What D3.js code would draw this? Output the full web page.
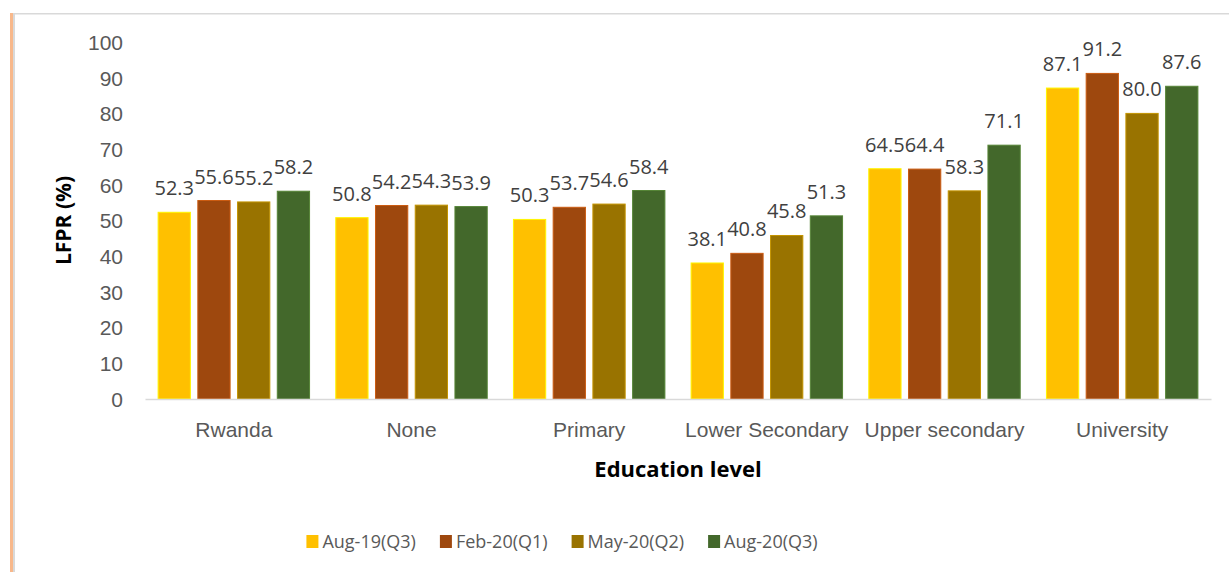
<!DOCTYPE html>
<html>
<head>
<meta charset="utf-8">
<script src="https://cdn.jsdelivr.net/npm/d3@7"></script>
<style>
  html, body { margin: 0; padding: 0; background: #fff; }
  svg { display: block; font-family: "Open Sans", "Noto Sans", sans-serif; }
</style>
</head>
<body>
<div id="chart"></div>
<script>
const categories = ['Rwanda', 'None', 'Primary', 'Lower Secondary', 'Upper secondary', 'University'];
const seriesNames = ['Aug-19(Q3)', 'Feb-20(Q1)', 'May-20(Q2)', 'Aug-20(Q3)'];
const aug19 = [52.3, 50.8, 50.3, 38.1, 64.5, 87.1];
const feb20 = [55.6, 54.2, 53.7, 40.8, 64.4, 91.2];
const may20 = [55.2, 54.3, 54.6, 45.8, 58.3, 80.0];
const aug20 = [58.2, 53.9, 58.4, 51.3, 71.1, 87.6];
const yTicks = [0, 10, 20, 30, 40, 50, 60, 70, 80, 90, 100];
const colors = ['#FFC000', '#9E480E', '#997300', '#43682B'];

const seriesValues = [aug19, feb20, may20, aug20];
const width = 1229, height = 572;
const margins = { top: 42, right: 18, bottom: 173, left: 145 };

const svg = d3.select('#chart').append('svg')
  .attr('width', width)
  .attr('height', height);

// frame like the clipped document border
svg.append('rect').attr('x', 10).attr('y', 13).attr('width', 3).attr('height', height - 13).attr('fill', '#F8B88B');
svg.append('rect').attr('x', 13).attr('y', 13).attr('width', 2).attr('height', height - 13).attr('fill', '#D9D9D9');
svg.append('rect').attr('x', 13).attr('y', 13).attr('width', width - 13).attr('height', 1.5).attr('fill', '#D9D9D9');

const x0 = d3.scaleBand().domain(categories).range([margins.left, width - margins.right]);
const x1 = d3.scaleBand().domain(seriesNames).range([0, x0.bandwidth()])
  .paddingInner(0.1875).paddingOuter(0.33);
const y = d3.scaleLinear().domain([0, 100]).range([399, margins.top]);

// y axis labels
const yAxis = d3.axisLeft(y).tickValues(yTicks).tickSize(0).tickPadding(22);
const yg = svg.append('g').attr('transform', `translate(${margins.left},0)`).call(yAxis);
yg.select('.domain').remove();
yg.selectAll('.tick text')
  .attr('fill', '#595959')
  .style('font-size', '21px')
  .attr('dy', '0.35em');

// bars
const groups = svg.append('g').selectAll('g')
  .data(categories)
  .join('g')
  .attr('transform', d => `translate(${x0(d)},0)`);

groups.selectAll('rect')
  .data((c, i) => seriesNames.map((s, j) => ({ s, j, v: seriesValues[j][i] })))
  .join('rect')
  .attr('x', d => x1(d.s))
  .attr('y', d => y(d.v))
  .attr('width', x1.bandwidth())
  .attr('height', d => y(0) - y(d.v))
  .attr('fill', d => colors[d.j])
  .attr('stroke', d => d3.color(colors[d.j]).brighter(0.7))
  .attr('stroke-width', 1);

groups.selectAll('text')
  .data((c, i) => seriesNames.map((s, j) => ({ s, j, v: seriesValues[j][i] })))
  .join('text')
  .attr('x', d => x1(d.s) + x1.bandwidth() / 2)
  .attr('y', d => y(d.v) - 17)
  .attr('text-anchor', 'middle')
  .attr('fill', '#404040')
  .style('font-size', '20px')
  .text(d => d.v.toFixed(1));

// x axis
const xAxis = d3.axisBottom(x0).tickSize(0).tickPadding(23);
const xg = svg.append('g').attr('transform', `translate(0,${y(0)})`).call(xAxis);
xg.select('.domain').attr('stroke', '#D9D9D9').attr('stroke-width', 1.5);
xg.selectAll('.tick text')
  .attr('fill', '#595959')
  .style('font-size', '21px');

// axis titles
svg.append('text')
  .attr('transform', `translate(71,${(y(0) + y(100)) / 2}) rotate(-90)`)
  .attr('text-anchor', 'middle')
  .attr('fill', '#000')
  .style('font-size', '21px')
  .style('font-weight', 'bold')
  .text('LFPR (%)');

svg.append('text')
  .attr('x', 678)
  .attr('y', 477)
  .attr('text-anchor', 'middle')
  .attr('fill', '#000')
  .style('font-size', '22px')
  .style('font-weight', 'bold')
  .text('Education level');

// legend
const legend = svg.append('g');
let lx = 0;
seriesNames.forEach((s, j) => {
  const item = legend.append('g').attr('transform', `translate(${lx},0)`);
  item.append('rect').attr('x', 0).attr('y', -13).attr('width', 12).attr('height', 13).attr('fill', colors[j]);
  const t = item.append('text').attr('x', 16).attr('y', 0)
    .attr('fill', '#595959').style('font-size', '18px').text(s);
  lx += 16 + t.node().getComputedTextLength() + 24;
});
const legendWidth = lx - 24;
legend.attr('transform', `translate(${562 - legendWidth / 2},548)`);
</script>
</body>
</html>
